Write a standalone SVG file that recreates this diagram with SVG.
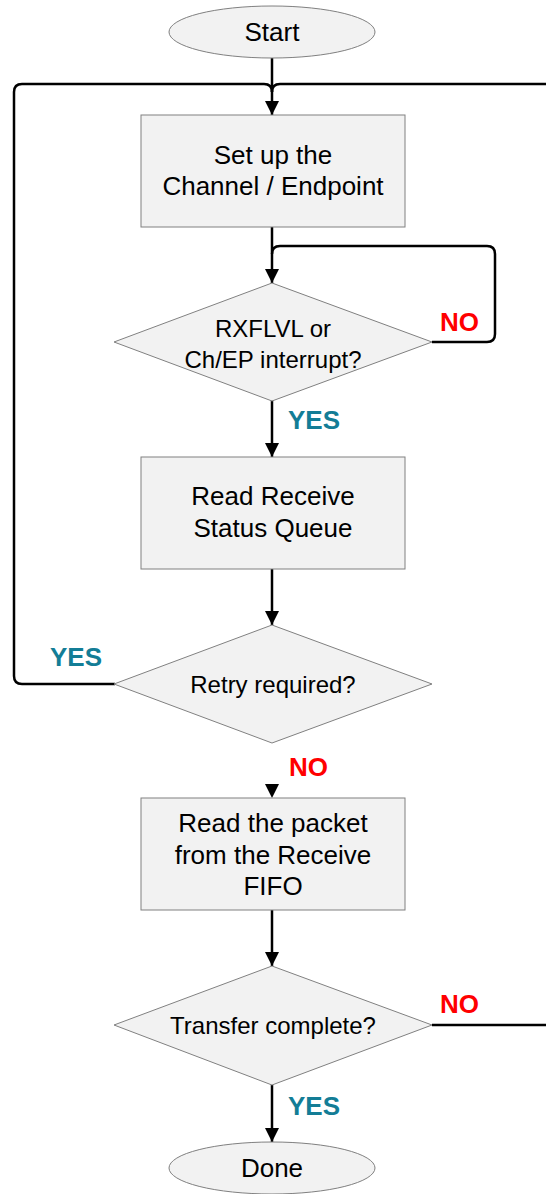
<svg xmlns="http://www.w3.org/2000/svg" width="546" height="1194" viewBox="0 0 546 1194">
<defs>
<style>
.shape{fill:#f2f2f2;stroke:#808080;stroke-width:1}
.t{font-family:"Liberation Sans",Arial,sans-serif;font-size:26px;fill:#000;text-anchor:middle}
.d{font-family:"Liberation Sans",Arial,sans-serif;font-size:24px;fill:#000;text-anchor:middle}
.no{font-family:"Liberation Sans",Arial,sans-serif;font-size:26px;font-weight:bold;fill:#ff0000}
.yes{font-family:"Liberation Sans",Arial,sans-serif;font-size:26px;font-weight:bold;fill:#137d96}
.c{fill:none;stroke:#000;stroke-width:2.5}
</style>
<marker id="ah" viewBox="0 0 10 10" refX="10" refY="5" markerWidth="14" markerHeight="14" markerUnits="userSpaceOnUse" orient="auto">
<path d="M0,0 L10,5 L0,10 Z" fill="#000"/>
</marker>
</defs>
<g id="connectors">
<path class="c" d="M272,58 V115" marker-end="url(#ah)"/>
<path class="c" d="M115,684 H22 Q14,684 14,676 V92 Q14,84 22,84 H264 Q272,84 272,92"/>
<path class="c" d="M546,84 H280 Q272,84 272,92"/>
<path class="c" d="M272,227 V283" marker-end="url(#ah)"/>
<path class="c" d="M432,342 H487 Q495,342 495,334 V254 Q495,246 487,246 H280 Q272,246 272,254"/>
<path class="c" d="M272,400 V457" marker-end="url(#ah)"/>
<path class="c" d="M272,569 V625" marker-end="url(#ah)"/>
<path class="c" d="M272,784 V798" marker-end="url(#ah)" stroke-opacity="0"/>
<path class="c" d="M272,910 V966" marker-end="url(#ah)"/>
<path class="c" d="M432,1025 H546"/>
<path class="c" d="M272,1085 V1142" marker-end="url(#ah)"/>
</g>
<g id="start">
<ellipse class="shape" cx="272" cy="32" rx="103" ry="26"/>
<text class="t" x="272" y="41">Start</text>
</g>
<g id="setup">
<rect class="shape" x="141" y="115" width="264" height="112"/>
<text class="t" x="273" y="164">Set up the</text>
<text class="t" x="273" y="195">Channel / Endpoint</text>
</g>
<g id="rxflvl">
<polygon class="shape" points="272,283 432,342 272,401 114,342"/>
<text class="d" x="273" y="337">RXFLVL or</text>
<text class="d" x="273" y="368">Ch/EP interrupt?</text>
<text class="no" x="440" y="331">NO</text>
<text class="yes" x="288" y="429">YES</text>
</g>
<g id="readstatus">
<rect class="shape" x="141" y="457" width="264" height="112"/>
<text class="t" x="273" y="505">Read Receive</text>
<text class="t" x="273" y="537">Status Queue</text>
</g>
<g id="retry">
<polygon class="shape" points="272,625 432,684 272,743 114,684"/>
<text class="d" x="273" y="693">Retry required?</text>
<text class="yes" x="50" y="666">YES</text>
<text class="no" x="289" y="776">NO</text>
</g>
<g id="readpacket">
<rect class="shape" x="141" y="798" width="264" height="112"/>
<text class="t" x="273" y="832">Read the packet</text>
<text class="t" x="273" y="864">from the Receive</text>
<text class="t" x="273" y="895">FIFO</text>
</g>
<g id="transfer">
<polygon class="shape" points="272,966 432,1025 272,1085 114,1025"/>
<text class="d" x="273" y="1034">Transfer complete?</text>
<text class="no" x="440" y="1013">NO</text>
<text class="yes" x="288" y="1115">YES</text>
</g>
<g id="done">
<ellipse class="shape" cx="272" cy="1168" rx="103" ry="26"/>
<text class="t" x="272" y="1177">Done</text>
</g>
</svg>
